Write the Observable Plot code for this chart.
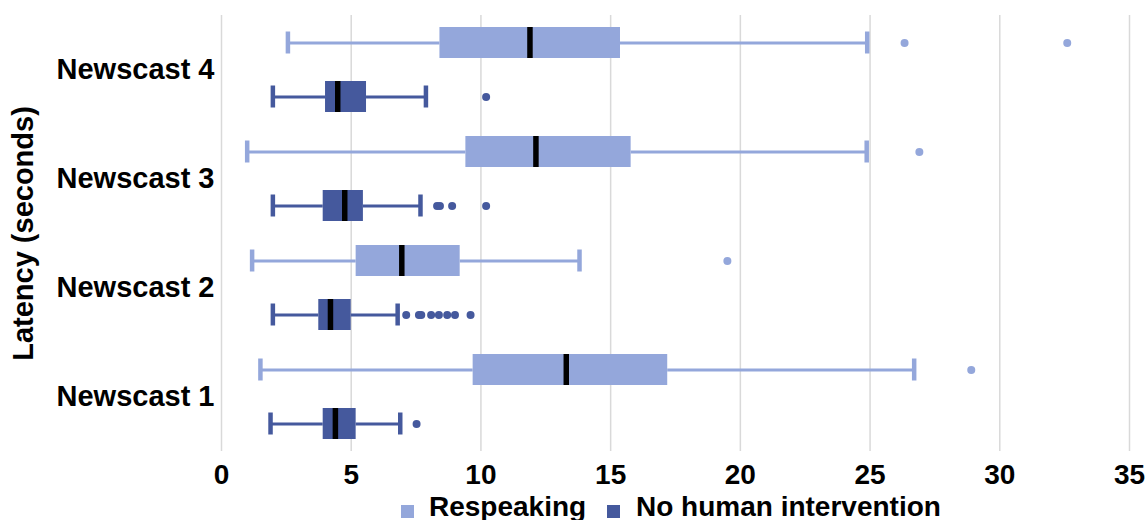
<!DOCTYPE html>
<html>
<head>
<meta charset="utf-8">
<script src="https://cdn.jsdelivr.net/npm/d3@7"></script>
<script src="https://cdn.jsdelivr.net/npm/@observablehq/plot@0.6"></script>
<style>
  html, body { margin: 0; padding: 0; background: #fff; }
  body { width: 1148px; height: 520px; overflow: hidden; font-family: "Liberation Sans", Arial, sans-serif; }
  #chart { position: relative; width: 1148px; height: 490px; }
  #legend { position: relative; height: 30px; font-weight: bold; font-size: 28px; line-height: 30px; white-space: nowrap; }
  .sw { position: absolute; width: 13px; height: 13px; top: 15px; }
  .lt { position: absolute; top: 2px; }
</style>
</head>
<body>
<div id="chart"></div>
<div id="legend"></div>
<script>
// Categories (top to bottom) and series
const newscasts = ["Newscast 4", "Newscast 3", "Newscast 2", "Newscast 1"];
const groups = ["Respeaking", "No human intervention"];
const colors = ["#94a7db", "#45599d"];
const xTicks = [0, 5, 10, 15, 20, 25, 30, 35];

// Respeaking box stats (order: Newscast 4, 3, 2, 1)
const respMin = [2.56, 0.99, 1.18, 1.50];
const respQ1 = [8.42, 9.42, 5.19, 9.70];
const respMedian = [11.89, 12.12, 6.95, 13.29];
const respQ3 = [15.38, 15.79, 9.20, 17.20];
const respMax = [24.89, 24.87, 13.80, 26.70];
const respOutliers = [[26.33, 32.6], [26.9], [19.5], [28.9]];

// No human intervention box stats (order: Newscast 4, 3, 2, 1)
const autoMin = [1.98, 1.98, 1.98, 1.89];
const autoQ1 = [4.01, 3.92, 3.75, 3.92];
const autoMedian = [4.48, 4.75, 4.20, 4.39];
const autoQ3 = [5.59, 5.47, 5.00, 5.19];
const autoMax = [7.88, 7.67, 6.79, 6.89];
const autoOutliers = [[10.2], [8.31, 8.42, 8.89, 10.2], [7.12, 7.61, 7.70, 8.08, 8.38, 8.70, 9.00, 9.60], [7.52]];

const boxes = newscasts.flatMap((n, i) => [
  {newscast: n, group: groups[0], min: respMin[i], q1: respQ1[i], median: respMedian[i], q3: respQ3[i], max: respMax[i]},
  {newscast: n, group: groups[1], min: autoMin[i], q1: autoQ1[i], median: autoMedian[i], q3: autoQ3[i], max: autoMax[i]}
]);
const outliers = newscasts.flatMap((n, i) => [
  ...respOutliers[i].map(v => ({newscast: n, group: groups[0], value: v})),
  ...autoOutliers[i].map(v => ({newscast: n, group: groups[1], value: v}))
]);

const chart = Plot.plot({
  width: 1148,
  height: 490,
  marginLeft: 221,
  marginRight: 19,
  marginTop: 14,
  marginBottom: 38,
  style: {fontFamily: "'Liberation Sans', Arial, sans-serif", fontSize: "29px", fontWeight: "bold", color: "#000", background: "#fff"},
  x: {domain: [0, 35], ticks: xTicks},
  y: {domain: groups, paddingInner: 0.426, paddingOuter: 0.213, axis: null},
  fy: {domain: newscasts, padding: 0},
  color: {domain: groups, range: colors},
  marks: [
    Plot.gridX(xTicks, {stroke: "#d9d9d9", strokeOpacity: 1, strokeWidth: 1.5}),
    Plot.axisX(xTicks, {tickSize: 0, tickPadding: 13, fontSize: 28, fontWeight: "bold", label: null}),
    Plot.axisFy({anchor: "left", tickSize: 0, tickPadding: 7, fontSize: 29, fontWeight: "bold", label: "Latency (seconds)", labelAnchor: "center", labelOffset: 209}),
    Plot.ruleY(boxes, {fy: "newscast", y: "group", x1: "min", x2: "q1", stroke: "group", strokeWidth: 3}),
    Plot.ruleY(boxes, {fy: "newscast", y: "group", x1: "q3", x2: "max", stroke: "group", strokeWidth: 3}),
    Plot.tickX(boxes, {fy: "newscast", y: "group", x: "min", stroke: "group", strokeWidth: 4.5, insetTop: 4.5, insetBottom: 4.5}),
    Plot.tickX(boxes, {fy: "newscast", y: "group", x: "max", stroke: "group", strokeWidth: 4.5, insetTop: 4.5, insetBottom: 4.5}),
    Plot.barX(boxes, {fy: "newscast", y: "group", x1: "q1", x2: "q3", fill: "group"}),
    Plot.tickX(boxes, {fy: "newscast", y: "group", x: "median", stroke: "#000", strokeWidth: 5.5}),
    Plot.dot(outliers, {fy: "newscast", y: "group", x: "value", fill: "group", r: 4})
  ]
});
document.getElementById("chart").appendChild(chart);

// Legend
const legend = document.getElementById("legend");
const legendX = [[401, 429], [607, 636]];
groups.forEach((g, i) => {
  const sw = document.createElement("div");
  sw.className = "sw";
  sw.style.left = legendX[i][0] + "px";
  sw.style.background = colors[i];
  const t = document.createElement("div");
  t.className = "lt";
  t.style.left = legendX[i][1] + "px";
  t.textContent = g;
  legend.appendChild(sw);
  legend.appendChild(t);
});
</script>
</body>
</html>
